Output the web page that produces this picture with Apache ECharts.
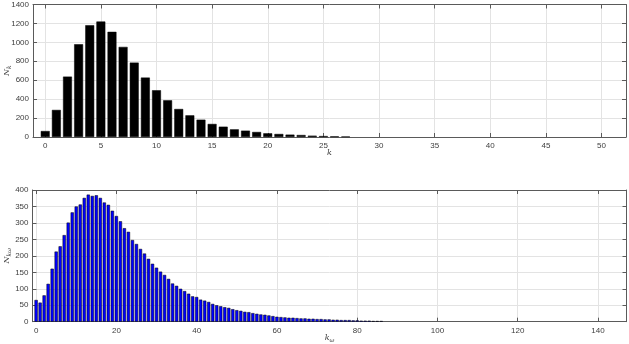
<!DOCTYPE html>
<html><head><meta charset="utf-8">
<script src="https://cdn.jsdelivr.net/npm/echarts@6/dist/echarts.min.js"></script>
<style>html,body{margin:0;padding:0;background:#fff}#c{width:629px;height:344px}</style>
</head><body><div id="c"></div>
<script>
// Top histogram: N_k over k
const kValues = [0,1,2,3,4,5,6,7,8,9,10,11,12,13,14,15,16,17,18,19,20,21,22,23,24,25,26,27];
const Nk = [63,286,638,980,1181,1220,1111,952,786,628,494,388,296,229,183,138,109,81,67,53,39,32,25,21,14,10,7,5];

// Bottom histogram: N_kω over kω
const kwValues = [0,1,2,3,4,5,6,7,8,9,10,11,12,13,14,15,16,17,18,19,20,21,22,23,24,25,26,27,28,29,30,31,32,33,34,35,36,37,38,39,40,41,42,43,44,45,46,47,48,49,50,51,52,53,54,55,56,57,58,59,60,61,62,63,64,65,66,67,68,69,70,71,72,73,74,75,76,77,78,79,80,81,82,83,84,85,86];
const Nkw = [66,58,80,115,161,213,229,263,301,332,350,356,376,386,382,384,376,362,355,337,321,305,284,273,248,236,221,207,191,176,164,152,142,130,116,109,100,93,85,77,75,67,64,60,54,50,47,44,42,38,35,33,30,29,26,24,22,21,19,17,15,14,13,12,12,11,10,10,9,9,8,8,7,7,6,6,5,5,5,4,4,3,3,3,2,2,2];

// Tick labels
const topXTicks = [0,5,10,15,20,25,30,35,40,45,50];
const topYTicks = [0,200,400,600,800,1000,1200,1400];
const botXTicks = [0,20,40,60,80,100,120,140];
const botYTicks = [0,50,100,150,200,250,300,350,400];

const FONT = 'Liberation Sans';
const LBL = '#404040';
const AXC = '#5a5a5a';
const GRID = '#e3e3e3';
const plain = v => String(v);

const nameRich = {
  v: {fontFamily: 'DejaVu Serif', fontStyle: 'italic', fontSize: 8, color: LBL},
  s: {fontFamily: 'DejaVu Serif', fontStyle: 'italic', fontSize: 6, color: LBL, padding: [5, 0, 0, 0]}
};

function xAxisMain(gi, min, max, ticks, name, nameGap) {
  return {
    type: 'value', gridIndex: gi, min: min, max: max, position: 'bottom',
    axisLine: {show: true, onZero: false, lineStyle: {color: AXC, width: 1}},
    axisTick: {show: true, inside: true, length: 4, customValues: ticks, lineStyle: {color: AXC}},
    axisLabel: {show: true, customValues: ticks, formatter: plain, margin: 5, fontFamily: FONT, fontSize: 8, color: LBL},
    splitLine: {show: true, lineStyle: {color: GRID, width: 1}},
    name: name, nameLocation: 'middle', nameGap: nameGap, nameMoveOverlap: false,
    nameTextStyle: {rich: nameRich}
  };
}
function xAxisMirror(gi, min, max, ticks) {
  return {
    type: 'value', gridIndex: gi, min: min, max: max, position: 'top',
    axisLine: {show: true, onZero: false, lineStyle: {color: AXC, width: 1}},
    axisTick: {show: true, inside: true, length: 4, customValues: ticks, lineStyle: {color: AXC}},
    axisLabel: {show: false, customValues: ticks},
    splitLine: {show: false}
  };
}
function yAxisMain(gi, max, ticks, name, nameGap) {
  return {
    type: 'value', gridIndex: gi, min: 0, max: max, position: 'left',
    axisLine: {show: true, onZero: false, lineStyle: {color: AXC, width: 1}},
    axisTick: {show: true, inside: true, length: 4, customValues: ticks, lineStyle: {color: AXC}},
    axisLabel: {show: true, customValues: ticks, formatter: plain, margin: 4, fontFamily: FONT, fontSize: 8, color: LBL},
    splitLine: {show: true, lineStyle: {color: GRID, width: 1}},
    name: name, nameLocation: 'middle', nameGap: nameGap, nameRotate: 90, nameMoveOverlap: false,
    nameTextStyle: {rich: nameRich}
  };
}
function yAxisMirror(gi, max, ticks) {
  return {
    type: 'value', gridIndex: gi, min: 0, max: max, position: 'right',
    axisLine: {show: true, onZero: false, lineStyle: {color: AXC, width: 1}},
    axisTick: {show: true, inside: true, length: 4, customValues: ticks, lineStyle: {color: AXC}},
    axisLabel: {show: false, customValues: ticks},
    splitLine: {show: false}
  };
}

const chart = echarts.init(document.getElementById('c'), null, {renderer: 'canvas'});
chart.setOption({
  animation: false,
  backgroundColor: '#fff',
  grid: [
    {left: 33, right: 3, top: 4.5, height: 132.5, outerBoundsMode: 'none', containLabel: false},
    {left: 32.5, right: 2.5, top: 190, height: 131.7, outerBoundsMode: 'none', containLabel: false}
  ],
  xAxis: [
    xAxisMain(0, -1.1, 52.2, topXTicks, '{v|k}', 12),
    xAxisMirror(0, -1.1, 52.2, topXTicks),
    xAxisMain(1, -0.9, 147.1, botXTicks, '{v|k}{s|ω}', 11),
    xAxisMirror(1, -0.9, 147.1, botXTicks)
  ],
  yAxis: [
    yAxisMain(0, 1400, topYTicks, '{v|N}{s|k}', 21),
    yAxisMirror(0, 1400, topYTicks),
    yAxisMain(1, 400, botYTicks, '{v|N}{s|kω}', 20),
    yAxisMirror(1, 400, botYTicks)
  ],
  series: [
    {
      type: 'bar', xAxisIndex: 0, yAxisIndex: 0, barWidth: '80%',
      data: kValues.map((k, i) => [k, Nk[i]]),
      itemStyle: {color: '#000000', borderColor: '#000000', borderWidth: 0.5},
      silent: true
    },
    {
      type: 'bar', xAxisIndex: 2, yAxisIndex: 2, barWidth: '80%',
      data: kwValues.map((k, i) => [k, Nkw[i]]),
      itemStyle: {color: '#0000ff', borderColor: '#000000', borderWidth: 0.5},
      silent: true
    }
  ]
});
</script>
</body></html>
